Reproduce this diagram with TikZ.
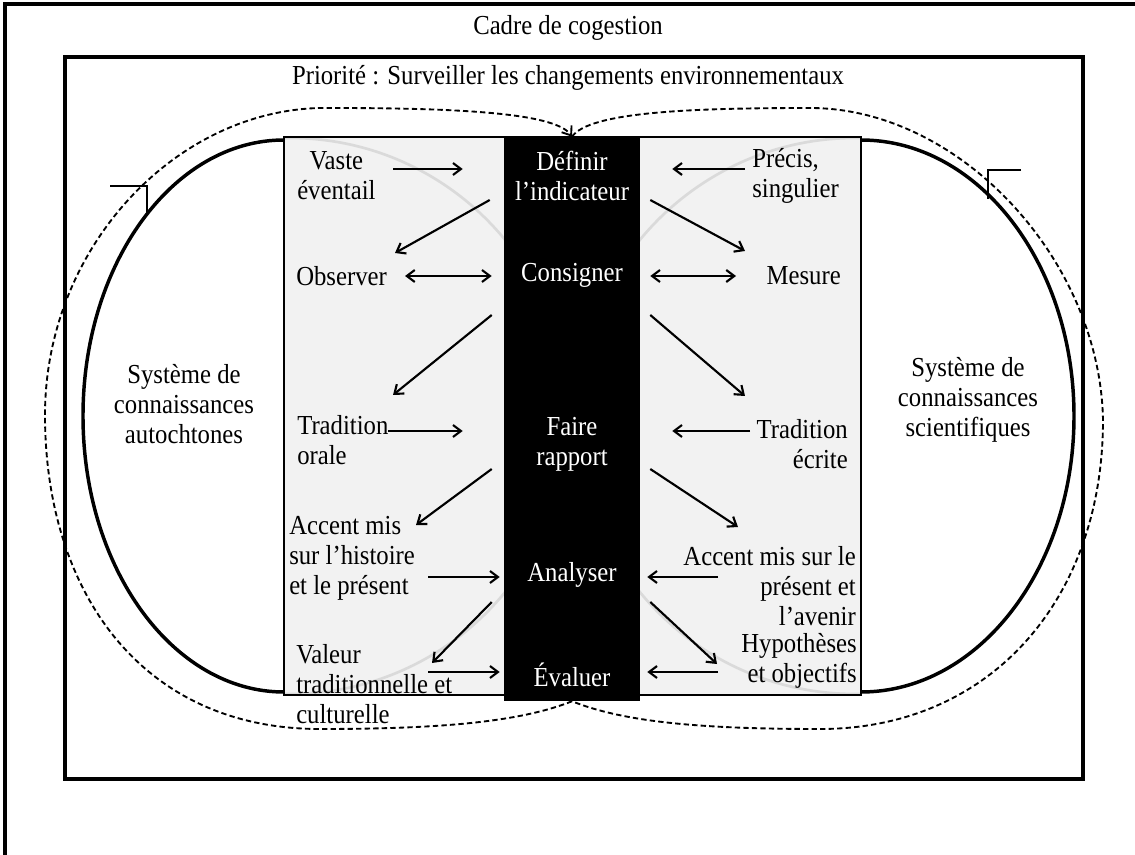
\documentclass[tikz,border=0pt]{standalone}
\usepackage{fontspec}
\setmainfont{Liberation Serif}[FakeStretch=0.9]
\usetikzlibrary{arrows.meta}
\definecolor{PanelGrey}{HTML}{F2F2F2}
\definecolor{FaintGrey}{HTML}{DADADA}

\begin{document}
\begin{tikzpicture}[x=0.75pt,y=-0.75pt,>={Straight Barb[length=6pt,width=9pt]},
  every node/.style={font=\fontsize{20.6pt}{22.5pt}\selectfont},
  lab/.style={inner sep=0pt},
  stage/.style={inner sep=0pt,text=white,align=center,minimum width=102pt},
  arr/.style={->,line width=1.6pt},
  biarr/.style={<->,line width=1.6pt},
  dashline/.style={line width=1.4pt,dash pattern=on 4pt off 2.4pt}]
\useasboundingbox (0,0) rectangle (1135,855);
\draw[line width=2.6pt] (5,860) -- (5,4) -- (1140,4);
\draw[line width=2.6pt] (65,57) rectangle (1083,779);
\node (cadre) at (568,28) {Cadre de cogestion};
\node (prio) at (568,78) {Priorité : Surveiller les changements environnementaux};
\draw[line width=2.6pt] (284,140) arc[start angle=90,end angle=270,x radius=150.75pt,y radius=207pt];
\draw[line width=2.6pt] (861,140) arc[start angle=90,end angle=-90,x radius=159.75pt,y radius=207pt];
\fill[PanelGrey] (284,137) rectangle (861,695);
\begin{scope}
\clip (284,137) rectangle (861,695);
\draw[FaintGrey,line width=2pt] (290,416) circle[radius=208.5pt];
\draw[FaintGrey,line width=2pt] (855,416) circle[radius=208.5pt];
\end{scope}
\draw[line width=2pt] (284,137) rectangle (861,695);
\node[fill=black,inner sep=0pt,minimum width=102pt,minimum height=423pt] (col) at (572,419) {};
\draw[dashline,->] (col.south) .. controls (520,722) and (440,729) .. (320,729) .. controls (140,729) and (45,590) .. (45,415) .. controls (45,245) and (180,105) .. (330,108) .. controls (450,108) and (555,112) .. (col.north);
\draw[dashline] (col.north) .. controls (589,112) and (690,108) .. (810,108) .. controls (960,108) and (1100,260) .. (1103,420) .. controls (1103,600) and (990,729) .. (820,729) .. controls (700,729) and (624,722) .. (col.south);
\draw[line width=1.8pt] (110,186) -- (147,186) -- (147,214);
\draw[line width=1.8pt] (1021,170) -- (988,170) -- (988,199);

\node[stage] (def) at (572,176) {Définir\\l’indicateur};
\node[stage] (cons) at (572,275) {Consigner};
\node[stage] (faire) at (572,444) {Faire\\rapport};
\node[stage] (anal) at (572,575) {Analyser};
\node[stage] (eval) at (572,675) {Évaluer};

\node[lab,align=center,anchor=west] (vaste) at (297,176) {Vaste\\éventail};
\node[lab,anchor=west] (obs) at (296,276) {Observer};
\node[lab,align=left,anchor=west] (tradO) at (297,440) {Tradition\\orale};
\node[lab,align=left,anchor=west] (accL) at (289,558) {Accent mis\\sur l’histoire\\et le présent};
\node[lab,align=left,anchor=west] (valeur) at (296,684) {Valeur\\traditionnelle et\\culturelle};
\node[lab,align=left,anchor=west] (precis) at (752,176) {Précis,\\singulier};
\node[lab,anchor=east] (mesure) at (841,276) {Mesure};
\node[lab,align=right,anchor=east] (tradE) at (848,444) {Tradition\\écrite};
\node[lab,align=right,anchor=east] (accR) at (856,586) {Accent mis sur le\\présent et\\l’avenir};
\node[lab,align=right,anchor=east] (hypo) at (857,661) {Hypothèses\\et objectifs};
\node[align=center] (sysL) at (184,404) {Système de\\connaissances\\autochtones};
\node[align=center] (sysR) at (968,400) {Système de\\connaissances\\scientifiques};

\draw[arr] ([shift={(96,-7)}]vaste.west) -- ([shift={(-41,-7)}]def.west);
\draw[arr] ([shift={(-14,24)}]def.west) -- ([shift={(99,-23)}]obs.west);
\draw[biarr] ([shift={(109,0)}]obs.west) -- ([shift={(-12,1)}]cons.west);
\draw[arr] ([shift={(-12,40)}]cons.west) -- ([shift={(96,-45)}]tradO.west);
\draw[arr] ([shift={(91,-9)}]tradO.west) -- ([shift={(-41,-13)}]faire.west);
\draw[arr] ([shift={(-12,25)}]faire.west) -- ([shift={(127,-33)}]accL.west);
\draw[arr] ([shift={(139,19)}]accL.west) -- ([shift={(-4,2)}]anal.west);
\draw[arr] ([shift={(-12,27)}]anal.west) -- ([shift={(136,-21)}]valeur.west);
\draw[arr] ([shift={(132,-12)}]valeur.west) -- ([shift={(-4,-3)}]eval.west);

\draw[arr] ([shift={(-7,-7)}]precis.west) -- ([shift={(32,-7)}]def.east);
\draw[arr] ([shift={(10,24)}]def.east) -- ([shift={(-96,-25)}]mesure.east);
\draw[biarr] ([shift={(10,1)}]cons.east) -- ([shift={(-105,0)}]mesure.east);
\draw[arr] ([shift={(10,40)}]cons.east) -- ([shift={(-103,-48)}]tradE.east);
\draw[arr] ([shift={(-98,-13)}]tradE.east) -- ([shift={(32,-13)}]faire.east);
\draw[arr] ([shift={(10,25)}]faire.east) -- ([shift={(-118,-59)}]accR.east);
\draw[arr] ([shift={(-138,-9)}]accR.east) -- ([shift={(7,2)}]anal.east);
\draw[arr] ([shift={(10,27)}]anal.east) -- ([shift={(-140,3)}]hypo.east);
\draw[arr] ([shift={(-139,11)}]hypo.east) -- ([shift={(7,-3)}]eval.east);
\end{tikzpicture}
\end{document}
